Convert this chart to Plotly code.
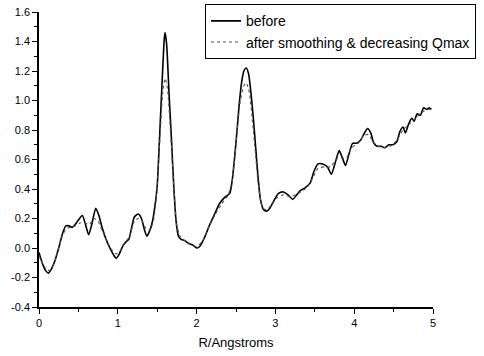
import plotly.graph_objects as go

# "before" series
before_r = [0.00, 0.04, 0.08, 0.12, 0.16, 0.20, 0.25, 0.30, 0.34, 0.38, 0.42, 0.46, 0.50, 0.55,
            0.59, 0.63, 0.67, 0.72, 0.76, 0.80, 0.85, 0.90, 0.95, 0.98, 1.02, 1.06, 1.10, 1.14,
            1.18, 1.21, 1.26, 1.30, 1.34, 1.37, 1.40, 1.44, 1.47, 1.50, 1.53, 1.56, 1.59, 1.60,
            1.62, 1.65, 1.68, 1.71, 1.74, 1.77, 1.80, 1.85, 1.90, 1.95, 2.00, 2.04, 2.10, 2.16,
            2.22, 2.29, 2.35, 2.42, 2.45, 2.48, 2.51, 2.54, 2.57, 2.60, 2.63, 2.66, 2.69, 2.72,
            2.75, 2.78, 2.81, 2.85, 2.89, 2.93, 2.98, 3.04, 3.10, 3.16, 3.22, 3.27, 3.32, 3.38,
            3.44, 3.49, 3.54, 3.60, 3.66, 3.71, 3.76, 3.81, 3.85, 3.89, 3.94, 3.98, 4.03, 4.08,
            4.13, 4.17, 4.21, 4.25, 4.29, 4.34, 4.39, 4.44, 4.49, 4.54, 4.58, 4.62, 4.65, 4.69,
            4.73, 4.76, 4.80, 4.84, 4.88, 4.92, 4.95, 4.98]
before_g = [-0.03, -0.10, -0.15, -0.17, -0.14, -0.09, 0.00, 0.10, 0.15, 0.15, 0.14, 0.16, 0.19, 0.22,
            0.16, 0.09, 0.16, 0.27, 0.22, 0.14, 0.06, 0.00, -0.05, -0.07, -0.04, 0.01, 0.04, 0.06,
            0.15, 0.21, 0.23, 0.20, 0.12, 0.08, 0.11, 0.18, 0.28, 0.42, 0.75, 1.10, 1.42, 1.46,
            1.38, 1.05, 0.75, 0.42, 0.18, 0.08, 0.06, 0.05, 0.03, 0.02, 0.00, 0.01, 0.07, 0.15,
            0.22, 0.30, 0.34, 0.37, 0.45, 0.60, 0.78, 0.97, 1.12, 1.20, 1.22, 1.18, 1.05, 0.88,
            0.68, 0.48, 0.33, 0.26, 0.25, 0.27, 0.32, 0.37, 0.38, 0.36, 0.33, 0.36, 0.39, 0.41,
            0.44, 0.52, 0.57, 0.57, 0.55, 0.50, 0.58, 0.66, 0.61, 0.56, 0.65, 0.71, 0.71, 0.73,
            0.78, 0.81, 0.78, 0.71, 0.69, 0.69, 0.68, 0.70, 0.70, 0.72, 0.79, 0.82, 0.78, 0.84,
            0.88, 0.86, 0.91, 0.90, 0.95, 0.94, 0.95, 0.94]

# "after smoothing & decreasing Qmax" series
after_r = [0.00, 0.05, 0.10, 0.14, 0.20, 0.25, 0.30, 0.35, 0.40, 0.46, 0.52, 0.58, 0.64, 0.70,
           0.75, 0.80, 0.86, 0.92, 0.98, 1.04, 1.10, 1.16, 1.21, 1.26, 1.31, 1.36, 1.40, 1.45,
           1.49, 1.53, 1.57, 1.60, 1.63, 1.67, 1.71, 1.75, 1.79, 1.85, 1.92, 2.00, 2.08, 2.16,
           2.24, 2.32, 2.40, 2.45, 2.50, 2.55, 2.60, 2.63, 2.67, 2.71, 2.75, 2.79, 2.84, 2.89,
           2.95, 3.02, 3.10, 3.18, 3.25, 3.32, 3.40, 3.47, 3.54, 3.62, 3.70, 3.77, 3.84, 3.90,
           3.97, 4.05, 4.12, 4.18, 4.24, 4.30, 4.38, 4.46, 4.54, 4.62, 4.70, 4.78, 4.86, 4.93, 4.98]
after_g = [-0.05, -0.11, -0.15, -0.15, -0.09, 0.00, 0.09, 0.13, 0.14, 0.15, 0.17, 0.17, 0.16, 0.20,
           0.18, 0.12, 0.05, -0.01, -0.04, -0.01, 0.04, 0.10, 0.18, 0.20, 0.18, 0.13, 0.12, 0.18,
           0.35, 0.70, 1.05, 1.15, 1.08, 0.78, 0.42, 0.15, 0.08, 0.05, 0.03, 0.01, 0.05, 0.15,
           0.23, 0.30, 0.36, 0.45, 0.70, 0.98, 1.10, 1.12, 1.05, 0.85, 0.62, 0.40, 0.27, 0.26,
           0.29, 0.34, 0.36, 0.35, 0.36, 0.38, 0.41, 0.47, 0.54, 0.55, 0.55, 0.60, 0.61, 0.61,
           0.68, 0.71, 0.76, 0.77, 0.72, 0.69, 0.68, 0.69, 0.73, 0.80, 0.84, 0.88, 0.92, 0.94, 0.94]

x_ticks = [0, 1, 2, 3, 4, 5]
y_ticks = [-0.4, -0.2, 0.0, 0.2, 0.4, 0.6, 0.8, 1.0, 1.2, 1.4, 1.6]

FONT = "Liberation Sans, Arial, sans-serif"

fig = go.Figure()
fig.add_trace(go.Scatter(x=before_r, y=before_g, mode="lines", name="before",
                         line=dict(color="black", width=1.6, shape="spline", smoothing=0.6)))
fig.add_trace(go.Scatter(x=after_r, y=after_g, mode="lines",
                         name="after smoothing & decreasing Qmax",
                         line=dict(color="#555555", width=1.1, dash="dot", shape="spline", smoothing=0.6)))

axis_common = dict(showgrid=False, zeroline=False, showline=True, linecolor="black", linewidth=1.5,
                   ticks="outside", ticklen=5, tickwidth=1.3, tickcolor="black",
                   tickfont=dict(family=FONT, size=11, color="black"))

fig.update_xaxes(range=[0, 5], tickvals=x_ticks, ticktext=[str(v) for v in x_ticks],
                 title=dict(text="R/Angstroms", font=dict(family=FONT, size=13, color="black"), standoff=10),
                 minor=dict(dtick=0.5, ticks="outside", ticklen=3, tickcolor="black"),
                 **axis_common)
fig.update_yaxes(range=[-0.4, 1.6], tickvals=y_ticks, ticktext=[f"{v:.1f}" for v in y_ticks],
                 minor=dict(dtick=0.1, ticks="outside", ticklen=3, tickcolor="black"),
                 **axis_common)

fig.update_layout(
    width=484, height=356,
    margin=dict(l=39, r=51, t=12, b=49, autoexpand=False),
    paper_bgcolor="white", plot_bgcolor="white",
    showlegend=True,
    legend=dict(xref="container", yref="container", x=0.4236, y=0.988,
                xanchor="left", yanchor="top",
                bordercolor="black", borderwidth=1, bgcolor="white",
                font=dict(family=FONT, size=14, color="black"),
                tracegroupgap=0, itemwidth=30),
)

fig.write_html("out.html")
